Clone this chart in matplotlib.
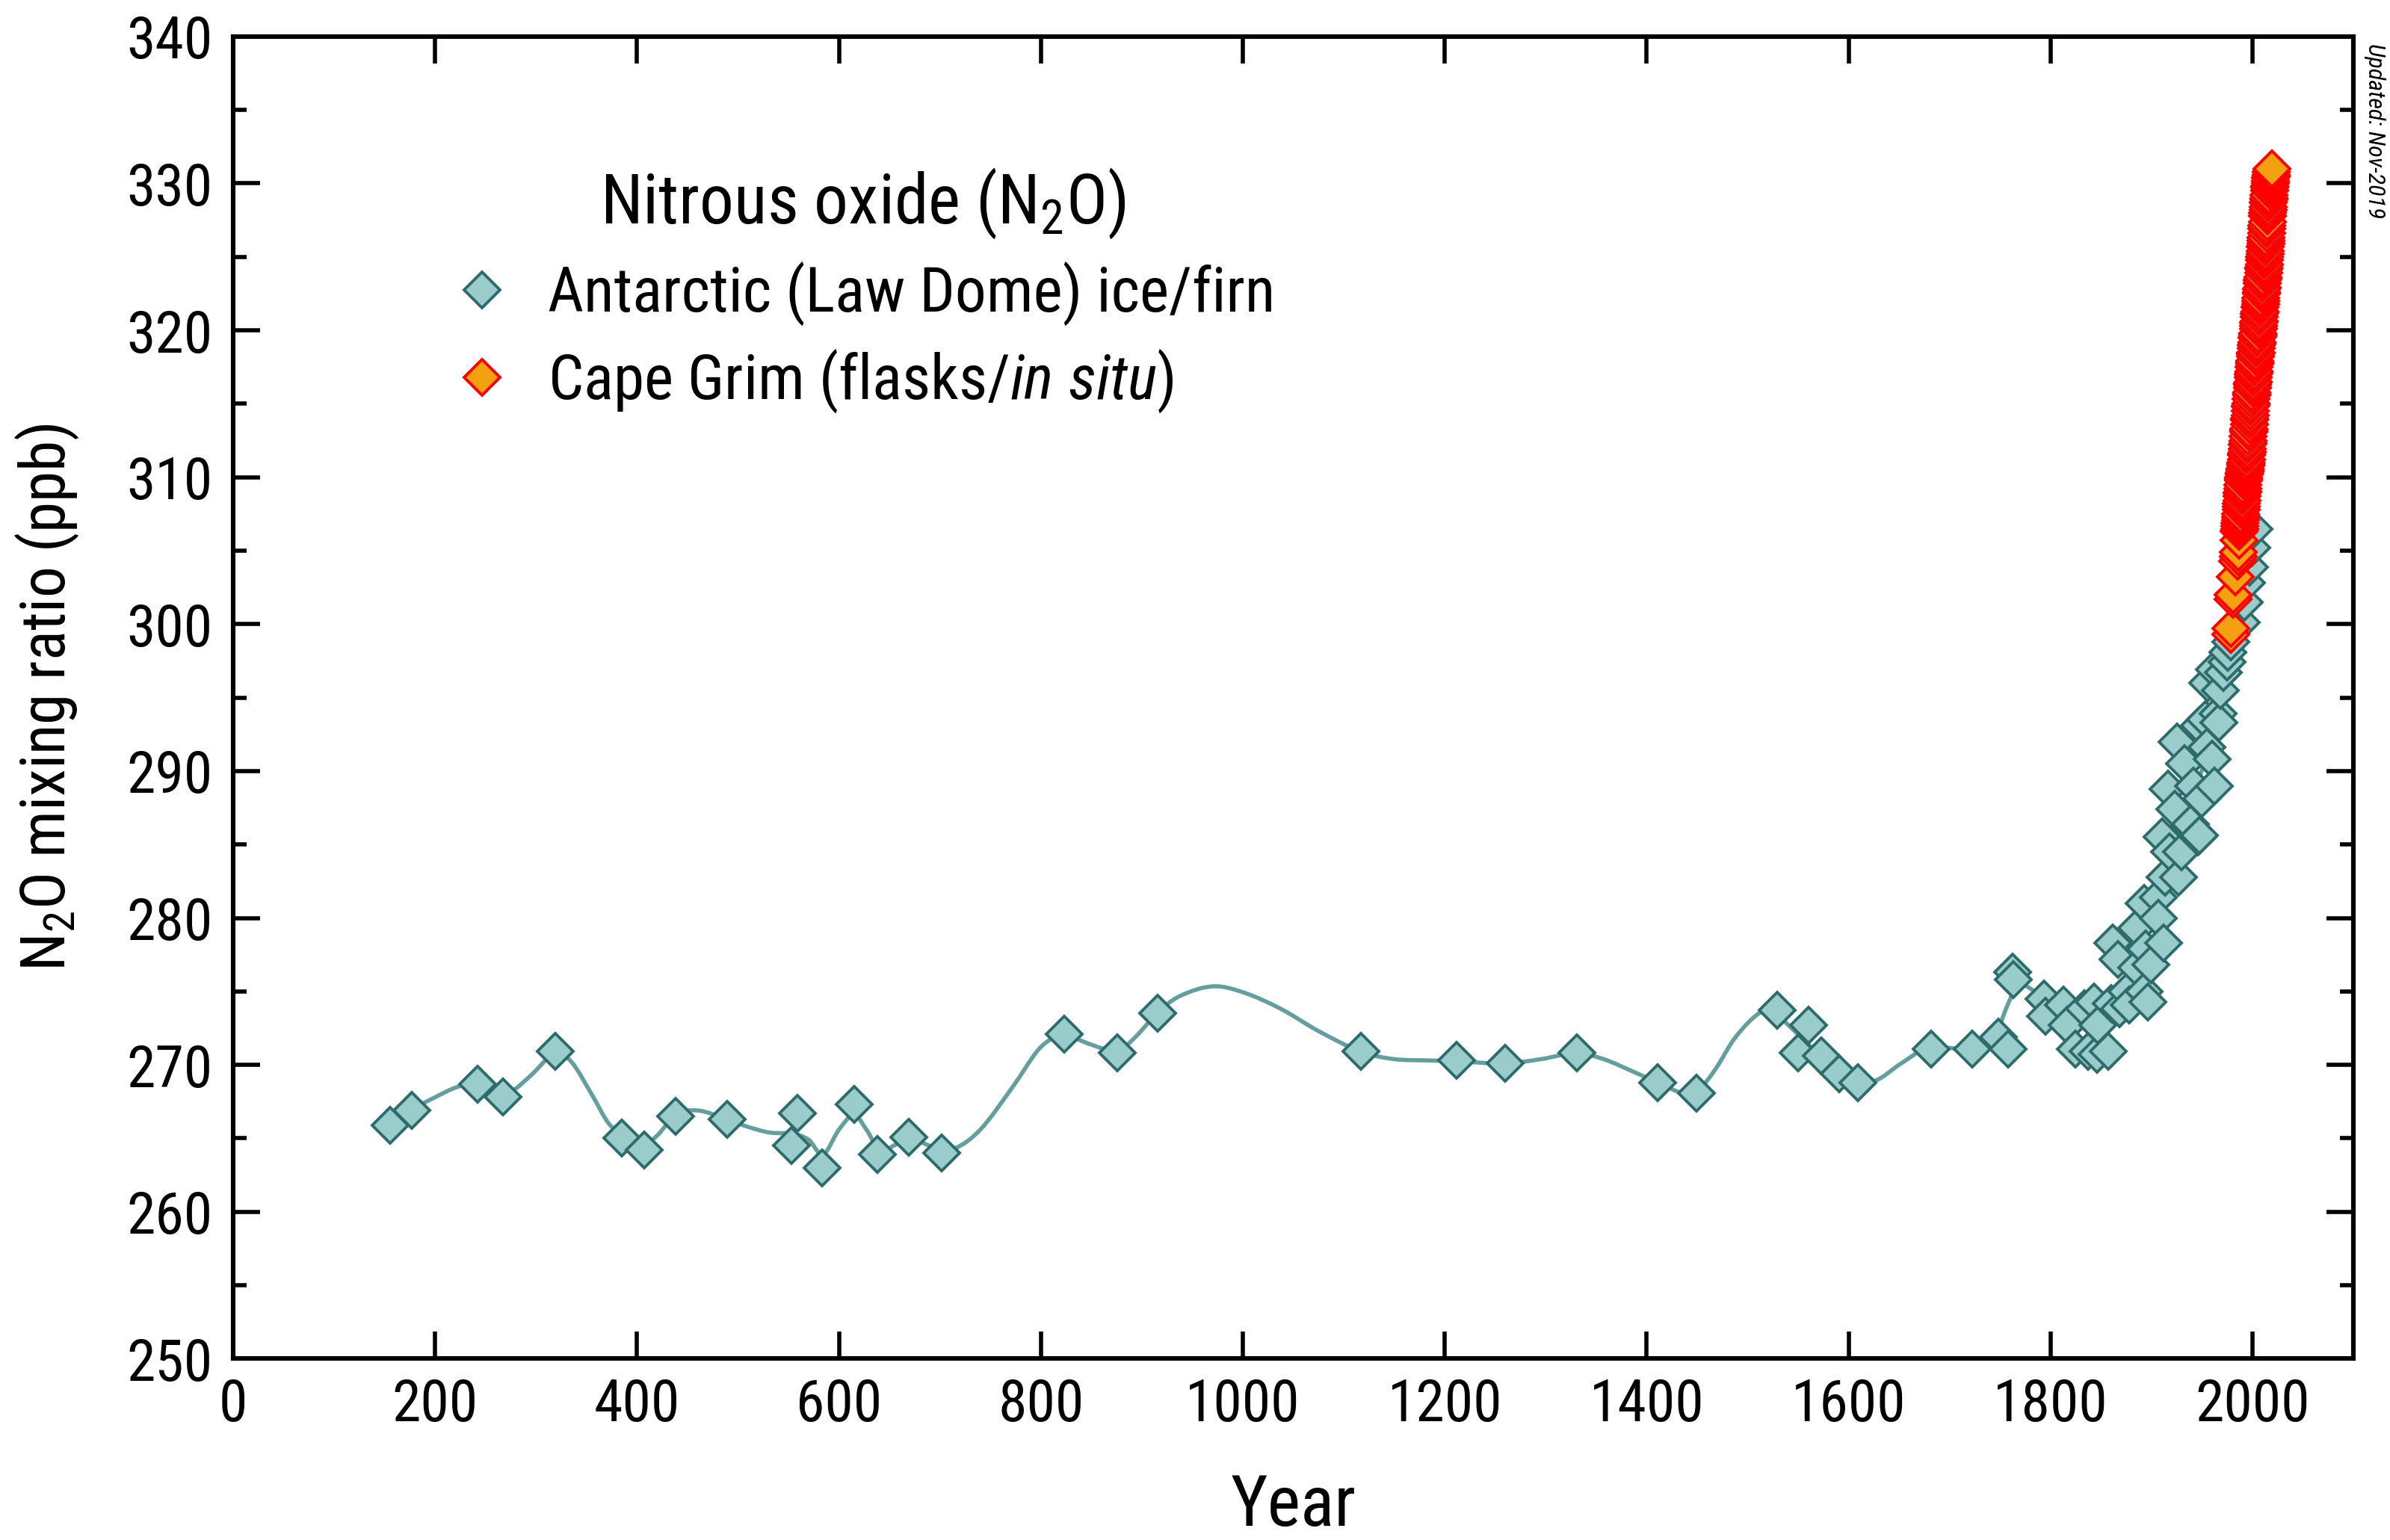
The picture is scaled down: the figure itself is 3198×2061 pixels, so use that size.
import numpy as np
import matplotlib
matplotlib.use('Agg')
from matplotlib import pyplot as plt
from matplotlib.path import Path
from matplotlib.patches import PathPatch
from matplotlib.ticker import MultipleLocator

# Law Dome ice/firn samples (year, ppb)
ld_year = [155.3, 176.8, 242.2, 267.3, 319.2, 384.9, 407.4, 438.1, 489.4, 552.8,
           558.5, 583.4, 615.0, 637.7, 669.4, 701.6, 822.8, 875.8, 915.7, 1116.9,
           1211.4, 1259.9, 1330.5, 1410.9, 1449.5, 1529.3, 1549.6, 1560.0, 1572.9, 1590.7,
           1609.0, 1681.5, 1722.6, 1748.4, 1757.6, 1762.5, 1763.5,
           1793.5, 1795.0, 1813.0, 1816.7, 1824.6, 1833.7, 1837.0, 1843.0, 1845.8, 1846.7,
           1857.0, 1860.0, 1861.4, 1867.0, 1868.5, 1875.5, 1878.0, 1885.0, 1885.4, 1892.5,
           1893.0, 1894.0, 1896.7, 1899.6, 1906.6, 1907.0, 1910.4, 1912.0, 1913.7, 1916.6,
           1917.8, 1922.7, 1925.2, 1926.4, 1930.0, 1932.6, 1937.8, 1938.8, 1941.2, 1946.0,
           1947.4, 1947.4, 1949.9, 1953.5, 1955.0, 1955.3, 1959.7, 1962.2, 1962.2, 1965.9,
           1967.0, 1968.3, 1971.0, 1974.5, 1975.8, 1978.2, 1989.1, 1991.6, 1994.3, 1996.7,
           1999.0, 2001.5]
ld_ppb = [265.9, 266.9, 268.7, 267.8, 270.9, 265.0, 264.2, 266.5, 266.3, 264.5,
          266.7, 263.0, 267.3, 263.9, 265.1, 264.0, 272.1, 270.8, 273.5, 270.9,
          270.3, 270.1, 270.8, 268.8, 268.1, 273.7, 270.8, 272.7, 270.6, 269.4,
          268.8, 271.1, 271.1, 271.9, 271.1, 276.3, 275.8,
          274.5, 273.3, 274.1, 272.7, 271.1, 273.8, 270.9, 274.3, 270.7, 272.7,
          270.9, 274.2, 278.3, 277.2, 273.8, 275.0, 274.1, 279.3, 276.6, 275.0,
          281.0, 277.9, 274.3, 276.8, 281.4, 280.0, 285.5, 278.3, 282.8, 288.8,
          284.5, 287.4, 292.0, 282.8, 284.5, 290.5, 286.3, 286.4, 289.0, 285.5,
          285.6, 293.1, 288.1, 293.5, 291.6, 296.0, 290.8, 289.0, 296.9, 293.9,
          293.3, 295.5, 296.7, 297.4, 298.1, 298.8, 300.1, 301.5, 302.8, 303.9,
          305.2, 306.5]

# smoothed Law Dome curve
fit_year = [155, 175, 200, 222, 242, 260, 275, 295, 319, 335, 355, 372, 387, 404, 420,
            438, 460, 489, 509, 531, 555, 570, 584, 600, 615, 628, 640, 657, 670, 694,
            714, 740, 773, 797, 813, 823, 845, 862, 876, 895, 916, 938, 971, 1002, 1038,
            1075, 1117, 1149, 1186, 1211, 1260, 1296, 1330, 1357, 1388, 1411, 1437, 1450,
            1468, 1487, 1511, 1525, 1542, 1560, 1578, 1603, 1625, 1652, 1677, 1723, 1744,
            1753, 1762, 1768, 1775, 1784, 1800, 1820, 1840, 1860, 1880, 1900, 1920, 1940,
            1960, 1975, 1990, 2000]
fit_ppb = [266.0, 266.9, 267.8, 268.5, 268.7, 268.3, 268.2, 269.3, 270.8, 270.2, 268.0,
           266.0, 265.2, 264.5, 265.2, 266.6, 266.9, 266.3, 265.8, 265.4, 265.3, 264.9,
           263.9, 265.6, 266.6, 265.5, 264.2, 264.6, 265.0, 264.4, 264.3, 265.6, 268.6,
           271.0, 271.9, 272.1, 271.5, 271.1, 270.9, 272.0, 273.6, 274.7, 275.35, 274.9,
           273.8, 272.3, 270.9, 270.4, 270.3, 270.25, 270.1, 270.4, 270.8, 270.4, 269.5,
           268.8, 268.05, 268.2, 269.7, 271.8, 273.5, 273.6, 272.6, 271.4, 270.25, 269.2,
           268.9, 270.1, 271.1, 271.1, 271.4, 273.3, 274.8, 275.6, 275.4, 275.0, 274.0,
           272.8, 272.6, 273.5, 275.4, 278.0, 283.0, 287.8, 292.5, 297.0, 302.0, 306.0]

# Cape Grim flasks (sparse) then in situ (quarterly)
cg_flask_year = [1978.2, 1978.4, 1980.5, 1980.9, 1983.0, 1985.3, 1985.6, 1985.9, 1986.6]
cg_flask_ppb = [299.3, 299.7, 301.7, 302.0, 303.2, 304.3, 304.6, 304.9, 305.7]
cg_insitu_ppb = [306.3, 306.5, 306.7, 306.9, 307.1, 307.3, 307.5, 307.8,
                 308.0, 308.2, 308.4, 308.7, 308.9, 309.0, 309.2, 309.5,
                 309.8, 309.9, 310.0, 310.2, 310.3, 310.4, 310.5, 310.6,
                 310.8, 310.9, 311.0, 311.2, 311.5, 311.6, 311.7, 311.9,
                 312.2, 312.3, 312.5, 312.8, 313.1, 313.2, 313.3, 313.6,
                 313.9, 314.0, 314.2, 314.5, 314.8, 314.9, 315.0, 315.3,
                 315.6, 315.7, 315.8, 316.1, 316.3, 316.4, 316.5, 316.8,
                 317.0, 317.1, 317.2, 317.5, 317.7, 317.8, 317.9, 318.2,
                 318.4, 318.5, 318.5, 318.8, 319.0, 319.1, 319.2, 319.5,
                 319.6, 319.7, 319.8, 320.1, 320.3, 320.5, 320.6, 320.9,
                 321.1, 321.2, 321.3, 321.6, 321.8, 322.0, 322.2, 322.5,
                 322.6, 322.8, 322.9, 323.2, 323.4, 323.5, 323.6, 323.9,
                 324.2, 324.3, 324.5, 324.8, 325.0, 325.2, 325.4, 325.7,
                 325.9, 326.1, 326.3, 326.6, 326.9, 327.1, 327.4, 327.8,
                 328.0, 328.2, 328.4, 328.7, 328.9, 329.0, 329.2, 329.5,
                 329.7, 329.8, 330.0, 330.2, 330.4, 330.5, 330.6, 330.8,
                 331.0]
cg_insitu_year = 1987 + 0.25*np.arange(len(cg_insitu_ppb))

fam = ['Roboto Condensed', 'DejaVu Sans']
plt.rcParams['font.family'] = fam
plt.rcParams['mathtext.fontset'] = 'custom'
plt.rcParams['mathtext.rm'] = 'Roboto Condensed'
plt.rcParams['mathtext.it'] = 'Roboto Condensed:italic'
plt.rcParams['mathtext.default'] = 'regular'

fig = plt.figure(figsize=(15.99, 10.305), dpi=200)
ax = fig.add_axes([0.0976, 0.1177, 0.8871, 0.8586])

# smooth curve as cubic Hermite pieces -> bezier path
x = np.array(fit_year, float)
y = np.array(fit_ppb, float)
m = np.zeros_like(y)
m[1:-1] = (y[2:]-y[:-2])/(x[2:]-x[:-2])
m[0] = (y[1]-y[0])/(x[1]-x[0])
m[-1] = (y[-1]-y[-2])/(x[-1]-x[-2])
verts = [(x[0], y[0])]
codes = [Path.MOVETO]
for i in range(len(x)-1):
    h = x[i+1]-x[i]
    verts += [(x[i]+h/3, y[i]+m[i]*h/3), (x[i+1]-h/3, y[i+1]-m[i+1]*h/3), (x[i+1], y[i+1])]
    codes += [Path.CURVE4]*3
ax.add_patch(PathPatch(Path(verts, codes), fill=False, edgecolor='#659E9E', lw=2.0, zorder=2))

ax.plot(ld_year, ld_ppb, 'D', ms=12, mfc='#9BCCCC', mec='#2E6B6B', mew=1.4,
        ls='none', zorder=3, label='Antarctic (Law Dome) ice/firn')
ax.plot(cg_flask_year, cg_flask_ppb, 'D', ms=12, mfc='#F5A010', mec='#FF0000', mew=1.4,
        ls='none', zorder=4, label='Cape Grim (flasks/$\\mathit{in\\ situ}$)')
ax.plot(cg_insitu_year, cg_insitu_ppb, 'D', ms=12, mfc='#F5A010', mec='#FF0000', mew=1.4,
        ls='none', zorder=4)

ax.set_xlim(0, 2100)
ax.set_ylim(250, 340)
ax.set_xticks(np.arange(0, 2001, 200))
ax.yaxis.set_major_locator(MultipleLocator(10))
ax.yaxis.set_minor_locator(MultipleLocator(5))
ax.tick_params(which='both', direction='in', top=True, right=True, width=2.0, labelsize=28)
ax.tick_params(which='major', length=13)
ax.tick_params(which='minor', length=6.5)
ax.tick_params(axis='x', pad=9)
ax.tick_params(axis='y', pad=10)
for s in ax.spines.values():
    s.set_linewidth(2.2)

ax.set_xlabel('Year', fontsize=34, labelpad=19)
ax.set_ylabel('N$_2$O mixing ratio (ppb)', fontsize=30, labelpad=22)

leg = ax.legend(loc='upper left', bbox_to_anchor=(0.091, 0.921), frameon=False,
                fontsize=30, title='Nitrous oxide (N$_2$O)', title_fontsize=33,
                handlelength=1.0, handletextpad=0.55, labelspacing=0.34, borderaxespad=0)

fig.text(0.9936, 0.972, 'Updated: Nov-2019', rotation=270, ha='center', va='top',
         fontsize=11.5, style='italic')

fig.savefig('out.png', dpi=200)
